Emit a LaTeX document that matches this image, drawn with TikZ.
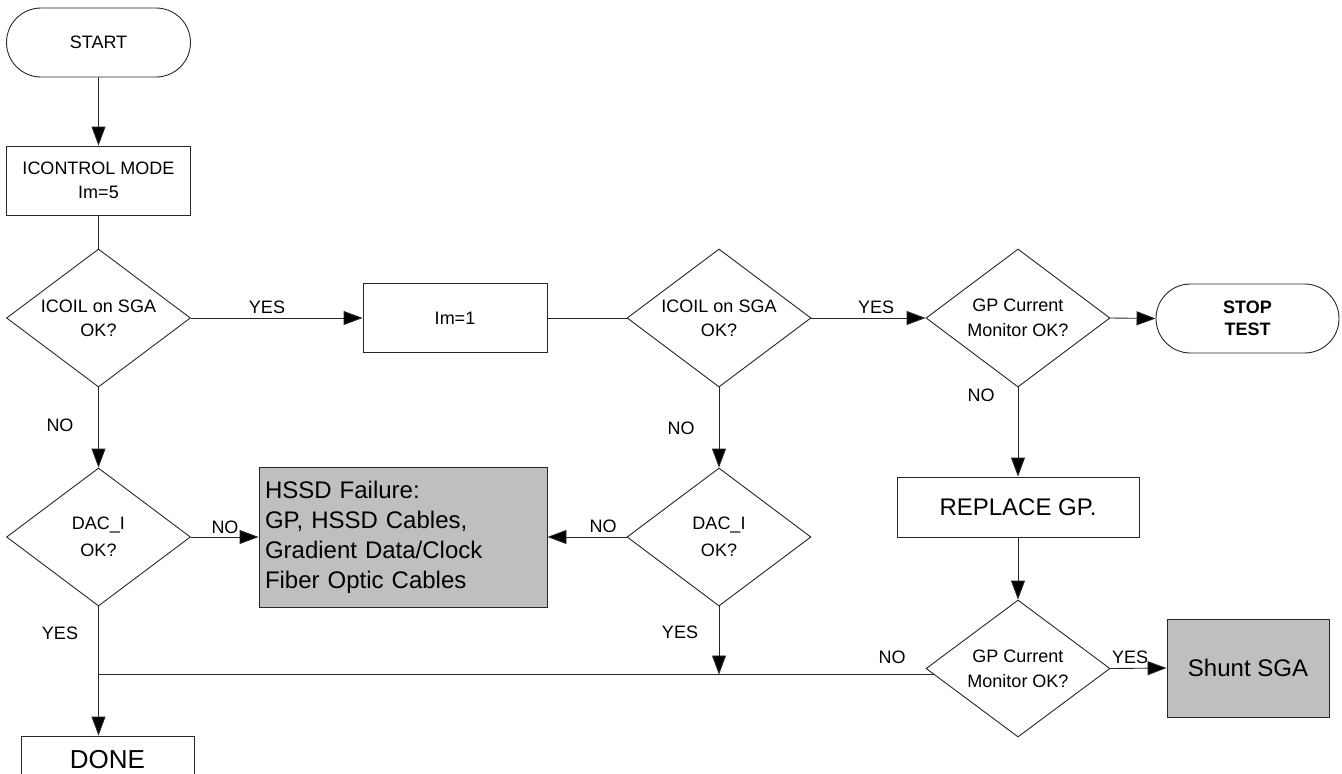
\documentclass[tikz,border=0pt]{standalone}
\usepackage{fontspec}
\setmainfont{Liberation Sans}
\usetikzlibrary{shapes.geometric,shapes.misc,arrows.meta,calc}

\tikzset{
  base/.style={draw=black!85, line width=0.9pt, inner sep=0pt, align=center,
               font=\fontsize{18}{24}\selectfont},
  terminal/.style={base, rounded rectangle, minimum width=184pt, minimum height=69pt},
  procbox/.style={base, rectangle, minimum width=184pt, minimum height=69pt},
  decision/.style={base, diamond, aspect=1.333, minimum width=184pt, minimum height=138pt},
  resultbox/.style={base, rectangle, fill=black!25, font=\fontsize{24}{30}\selectfont},
  lbl/.style={inner sep=0pt, font=\fontsize{18}{22}\selectfont},
  arr/.style={draw=black!85, line width=0.9pt, -{Triangle[length=19pt,width=14pt,fill=black]}},
  link/.style={draw=black!85, line width=0.9pt}
}

\begin{document}
\begin{tikzpicture}[x=1pt, y=-1pt]
  \useasboundingbox (0,0) rectangle (1342,774);
  \clip (0,0) rectangle (1342,774);

  % main column
  \node[terminal] (start) at (98.5,42.5) {START};
  \node[procbox] (icm) at (98.5,180.5) {ICONTROL MODE\\Im=5};
  \node[decision] (d1) at (98.5,318) {ICOIL on SGA\\OK?};
  \node[decision, font=\fontsize{18}{27}\selectfont] (dac1) at (98.5,537) {DAC\_I\\OK?};
  \node[procbox, minimum width=173pt, minimum height=48pt, font=\fontsize{26}{30}\selectfont]
        (done) at (107.5,760) {DONE};

  % second column
  \node[procbox] (im1) at (455,318) {Im=1};
  \node[decision] (d2) at (719,318) {ICOIL on SGA\\OK?};
  \node[decision, font=\fontsize{18}{27}\selectfont] (dac2) at (719,537) {DAC\_I\\OK?};
  \node[resultbox, minimum width=288pt, minimum height=140pt, text width=276pt, align=left]
        (hssd) at (403,537) {HSSD Failure:\\GP, HSSD Cables,\\Gradient Data/Clock\\Fiber Optic Cables};

  % right column
  \node[decision, font=\fontsize{18}{25}\selectfont] (d3) at (1018,318) {GP Current\\Monitor OK?};
  \node[terminal, minimum width=183pt, font=\bfseries\fontsize{18}{22}\selectfont]
        (stop) at (1247.5,318.5) {STOP\\TEST};
  \node[procbox, minimum width=242pt, minimum height=60pt, font=\fontsize{24}{28}\selectfont]
        (rep) at (1018,507) {REPLACE GP.};
  \node[decision, minimum height=137pt, font=\fontsize{18}{25}\selectfont]
        (d4) at (1018,668.5) {GP Current\\Monitor OK?};
  \node[resultbox, minimum width=162pt, minimum height=98pt] (shunt) at (1248,668) {Shunt SGA};

  % connectors
  \draw[arr] (start) -- (icm);
  \draw[link] (icm) -- (d1);
  \draw[arr] (d1.east) -- (im1.west);
  \draw[link] (im1.east) -- (d2.west);
  \draw[arr] (d2.east) -- (d3.west);
  \draw[arr] (d3.east) -- (stop.west);
  \draw[arr] (d3.south) -- (rep.north);
  \draw[arr] (rep.south) -- (d4.north);
  \draw[arr] (d4.east) -- (shunt.west);
  \draw[arr] (d1.south) -- (dac1.north);
  \draw[arr] (d2.south) -- (dac2.north);
  \draw[arr] (dac1.east) -- (hssd.west);
  \draw[arr] (dac2.west) -- (hssd.east);
  \draw[arr] (dac1.south) -- (dac1.south |- done.north);

  % return line from the lower decision
  \coordinate (d4in) at ($(d4.west)!0.087!(d4.south)$);
  \coordinate (merge) at (dac1.south |- d4in);
  \coordinate (yesin) at (dac2.south |- d4in);
  \draw[link] (d4in) -- (merge);
  \draw[arr] (dac2.south) -- (yesin);

  % branch labels
  \node[lbl] (y1) at (267,307) {YES};
  \node[lbl] (n1) at (60,425) {NO};
  \node[lbl] (n2) at (225,527) {NO};
  \node[lbl] (y2) at (60,633) {YES};
  \node[lbl] (n3) at (603,526) {NO};
  \node[lbl] (n4) at (681,428) {NO};
  \node[lbl] (y3) at (680,632) {YES};
  \node[lbl] (y4) at (876,307) {YES};
  \node[lbl] (n5) at (981,395) {NO};
  \node[lbl] (n6) at (892,657) {NO};
  \node[lbl] (y5) at (1130,657) {YES};
\end{tikzpicture}
\end{document}
